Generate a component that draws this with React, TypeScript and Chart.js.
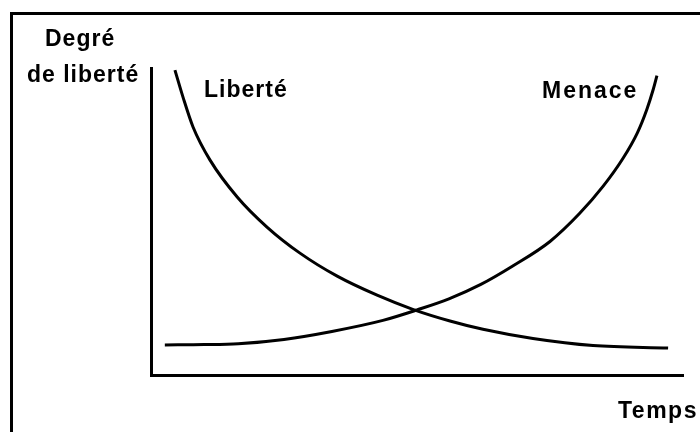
import React, { useEffect, useRef } from "react";
import { Chart, registerables } from "chart.js";

Chart.register(...registerables);

// Time axis (0-100) and degree of freedom (0-100)
const libertyX = [4.5, 6, 7.9, 11.1, 16.2, 21.8, 28, 35, 42.5, 49.2, 56.2, 62.4, 71.8, 83.1, 97.2];
const libertyY = [99.3, 90.6, 80.8, 70, 58, 48.2, 39.7, 32.2, 26, 21.4, 17.6, 14.9, 11.9, 9.6, 8.8];
const threatX = [2.6, 10, 16.4, 25, 34, 43.6, 50, 56, 62, 68, 75, 80.5, 85, 88.7, 91.4, 93.2, 94.4, 95.1];
const threatY = [9.8, 9.9, 10.2, 11.6, 14.2, 17.8, 21.2, 24.8, 29.5, 35.5, 43.5, 52.5, 61.5, 70.5, 78.8, 86.5, 93, 97.5];
const seriesLabels = ["Liberté", "Menace"];
const yAxisTitle = ["Degré", "de liberté"];
const xAxisTitle = "Temps";

const FONT = "bold 23px 'Liberation Sans', Arial, sans-serif";

const textPlugin = {
  id: "textPlugin",
  beforeDraw(chart: any) {
    const ctx = chart.ctx;
    ctx.save();
    ctx.fillStyle = "#ffffff";
    ctx.fillRect(0, 0, chart.width, chart.height);
    // outer frame
    ctx.strokeStyle = "#000";
    ctx.lineWidth = 3;
    ctx.beginPath();
    ctx.moveTo(11.5, chart.height);
    ctx.lineTo(11.5, 13.5);
    ctx.lineTo(chart.width, 13.5);
    ctx.stroke();
    ctx.restore();
  },
  afterDraw(chart: any) {
    const ctx = chart.ctx;
    ctx.save();
    ctx.fillStyle = "#000";
    ctx.font = FONT;
    try { (ctx as any).letterSpacing = "1px"; } catch (e) {}
    ctx.textBaseline = "alphabetic";
    ctx.textAlign = "left";
    ctx.fillText(yAxisTitle[0], 45, 46);
    ctx.fillText(yAxisTitle[1], 27, 82);
    ctx.fillText(seriesLabels[0], 204, 97);
    try { (ctx as any).letterSpacing = "2px"; } catch (e) {}
    ctx.fillText(seriesLabels[1], 542, 98);
    try { (ctx as any).letterSpacing = "1.5px"; } catch (e) {}
    ctx.fillText(xAxisTitle, 618, 418);
    ctx.restore();
  },
};

export default function App() {
  const ref = useRef<HTMLCanvasElement>(null);
  useEffect(() => {
    if (!ref.current) return;
    const chart = new Chart(ref.current, {
      type: "line",
      data: {
        datasets: [
          {
            label: seriesLabels[0],
            data: libertyX.map((x, i) => ({ x, y: libertyY[i] })),
            borderColor: "#000",
            borderWidth: 3,
            pointRadius: 0,
            fill: false,
            cubicInterpolationMode: "monotone",
          },
          {
            label: seriesLabels[1],
            data: threatX.map((x, i) => ({ x, y: threatY[i] })),
            borderColor: "#000",
            borderWidth: 3,
            pointRadius: 0,
            fill: false,
            cubicInterpolationMode: "monotone",
          },
        ],
      },
      options: {
        animation: false,
        responsive: false,
        events: [],
        layout: { padding: { left: 151, top: 68, right: 17, bottom: 57 } },
        plugins: { legend: { display: false }, tooltip: { enabled: false }, title: { display: false } },
        scales: {
          x: {
            type: "linear",
            min: 0,
            max: 100,
            ticks: { display: false },
            grid: { display: false, drawTicks: false },
            border: { display: true, color: "#000", width: 3 },
          },
          y: {
            type: "linear",
            min: 0,
            max: 100,
            ticks: { display: false },
            grid: { display: false, drawTicks: false },
            border: { display: true, color: "#000", width: 3 },
          },
        },
      },
      plugins: [textPlugin],
    } as any);
    return () => chart.destroy();
  }, []);
  return (
    <div style={{ position: "fixed", left: 0, top: 0, width: 700, height: 432, background: "#fff" }}>
      <canvas ref={ref} width={700} height={432} />
    </div>
  );
}
